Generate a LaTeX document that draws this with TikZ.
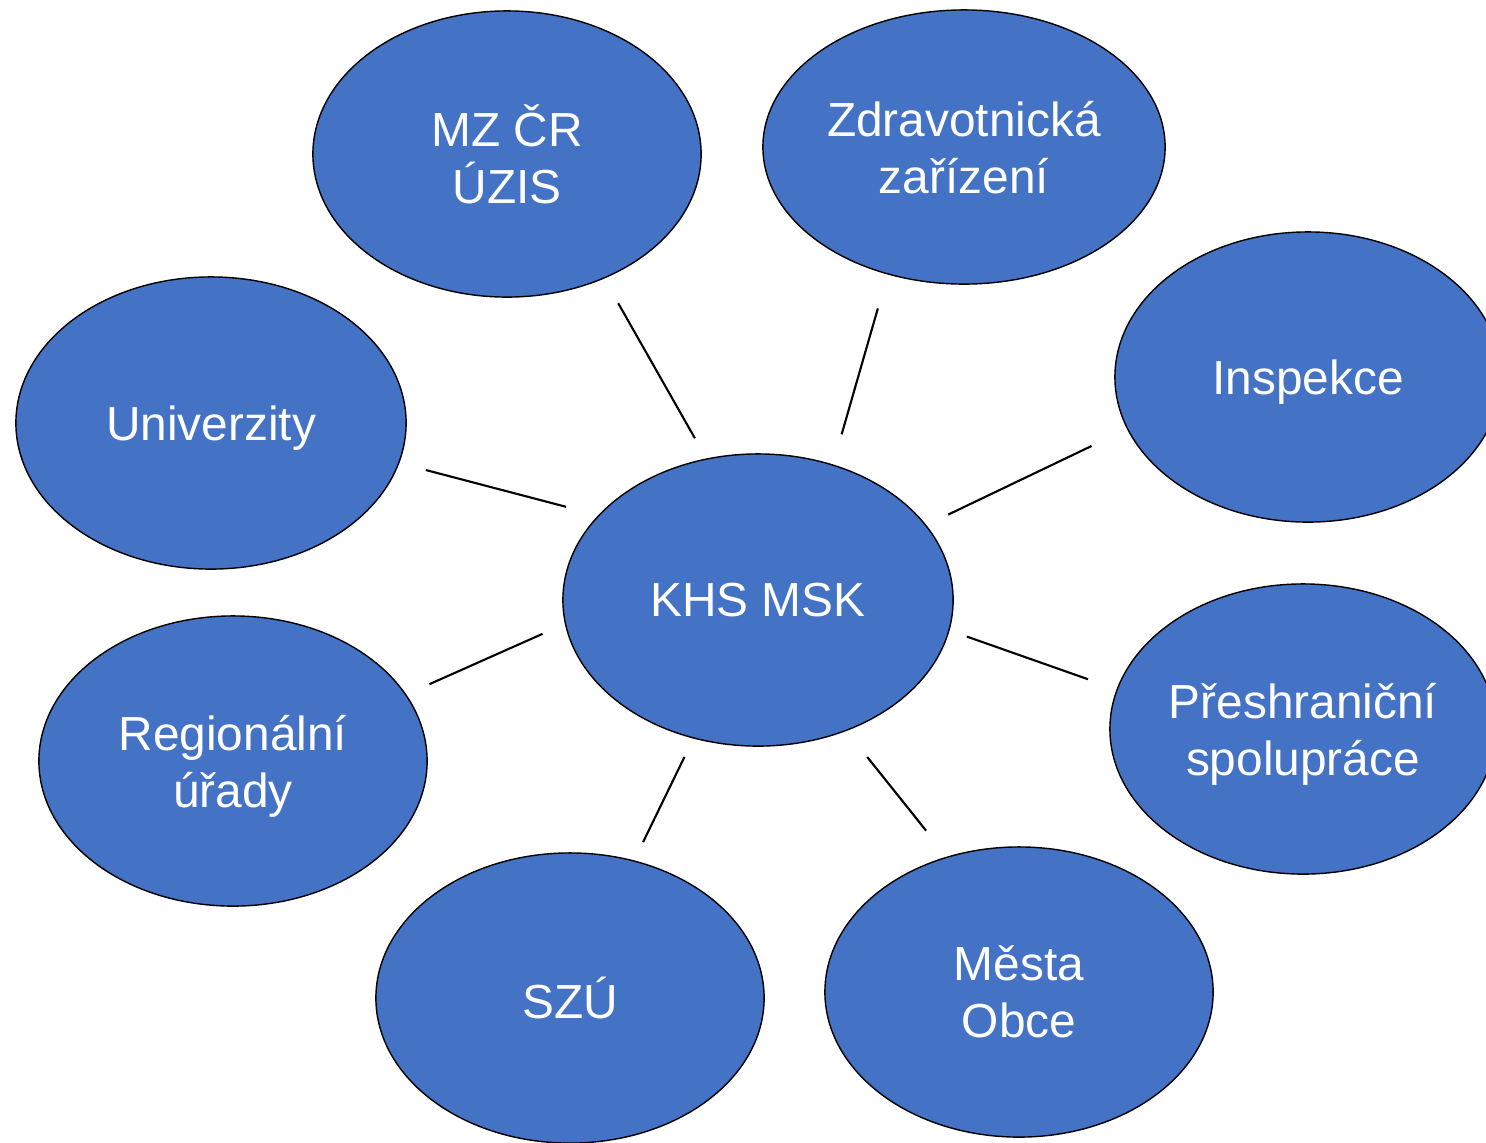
\documentclass[tikz,border=0pt]{standalone}
\usepackage{fontspec}
\setmainfont{Liberation Sans}
\usepackage{tikz}
\usetikzlibrary{shapes.geometric}
\definecolor{bubbleblue}{HTML}{4472C4}

\begin{document}
\begin{tikzpicture}[
    x = 0.01cm, y = -0.01cm,
    bubble/.style = {ellipse, draw, thin, fill=bubbleblue, text=white,
        inner sep = 0pt, outer sep = 0pt, align=center, text depth=0pt,
        minimum width=3.88cm, minimum height=2.9cm,
        font=\fontsize{13.6}{16.2}\selectfont},
    link/.style = {semithick}
  ]
  \useasboundingbox (0,0) rectangle (1486,1142);
  \clip (0,0) rectangle (1486,1142);

  \node[bubble] (khs) at (758,600) [minimum width=3.9cm, minimum height=2.92cm] {KHS MSK};

  \node[bubble] (mz)  at (507,154) [minimum height=2.86cm] {MZ ČR\\ÚZIS};
  \node[bubble] (zdr) at (964,147) [minimum width=4.02cm, minimum height=2.74cm] {Zdravotnická\\zařízení};
  \node[bubble] (insp) at (1308,377) [minimum width=3.86cm] {Inspekce};
  \node[bubble] (univ) at (211,423) [minimum width=3.9cm, minimum height=2.92cm] {Univerzity};
  \node[bubble] (pres) at (1303,729) [minimum width=3.86cm] {Přeshraniční\\spolupráce};
  \node[bubble] (reg)  at (233,761) {Regionální\\úřady};
  \node[bubble] (szu)  at (570,998) {SZÚ};
  \node[bubble] (mest) at (1019,992) {Města\\Obce};

  % spojnice od KHS ven
  \foreach \o/\a/\b/\s/\t in {mz/110/308/0.24cm/0.29cm,
                              zdr/61/239/0.32cm/0.36cm,
                              insp/24.5/196.4/0.25cm/0.40cm,
                              univ/152.2/348.3/0.34cm/0.28cm,
                              pres/351.4/168.8/0.19cm/0.31cm,
                              reg/187.9/21.7/0.25cm/0.26cm,
                              szu/245.3/65.5/0.21cm/0.21cm,
                              mest/304/118.1/0.34cm/0.34cm}
    \draw[link, shorten <=\s, shorten >=\t] (khs.\a) -- (\o.\b);
\end{tikzpicture}
\end{document}
